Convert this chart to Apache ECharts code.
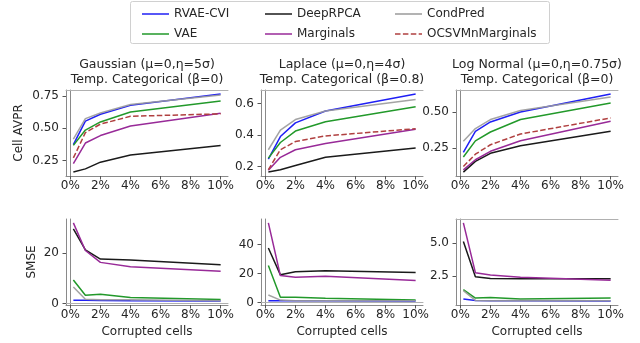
<!DOCTYPE html>
<html><head><meta charset="utf-8">
<script src="https://cdn.jsdelivr.net/npm/echarts@6/dist/echarts.min.js"></script>
<style>html,body{margin:0;padding:0;background:#fff}#c{width:640px;height:343px}</style>
</head><body><div id="c"></div>
<script>
const methods = ['RVAE-CVI','VAE','DeepRPCA','Marginals','CondPred','OCSVMnMarginals'];
const xPct = [0.2, 1, 2, 4, 10];
const xTicks = [0, 2, 4, 6, 8, 10];

// Cell AVPR
const gaussAvprRvae = [0.373, 0.556, 0.610, 0.679, 0.768];
const gaussAvprVae  = [0.368, 0.487, 0.550, 0.627, 0.712];
const gaussAvprDeep = [0.160, 0.185, 0.237, 0.293, 0.367];
const gaussAvprMarg = [0.225, 0.386, 0.444, 0.518, 0.618];
const gaussAvprCond = [0.416, 0.576, 0.620, 0.686, 0.760];
const gaussAvprOcsv = [0.270, 0.467, 0.533, 0.594, 0.613];

const lapAvprRvae = [0.247, 0.390, 0.477, 0.552, 0.661];
const lapAvprVae  = [0.253, 0.352, 0.425, 0.484, 0.579];
const lapAvprDeep = [0.164, 0.179, 0.206, 0.258, 0.317];
const lapAvprMarg = [0.175, 0.258, 0.306, 0.346, 0.436];
const lapAvprCond = [0.306, 0.431, 0.498, 0.552, 0.625];
const lapAvprOcsv = [0.179, 0.306, 0.358, 0.394, 0.440];

const logAvprRvae = [0.220, 0.367, 0.432, 0.502, 0.628];
const logAvprVae  = [0.187, 0.300, 0.362, 0.449, 0.565];
const logAvprDeep = [0.082, 0.157, 0.213, 0.266, 0.367];
const logAvprMarg = [0.098, 0.168, 0.227, 0.301, 0.437];
const logAvprCond = [0.297, 0.386, 0.449, 0.512, 0.607];
const logAvprOcsv = [0.121, 0.207, 0.273, 0.348, 0.460];

// SMSE
const gaussSmseRvae = [1.3, 1.3, 1.2, 1.1, 1.0];
const gaussSmseVae  = [9.3, 3.3, 3.7, 2.4, 1.6];
const gaussSmseDeep = [29.5, 21.2, 17.6, 17.2, 15.4];
const gaussSmseMarg = [31.9, 21.0, 16.3, 14.6, 12.8];
const gaussSmseCond = [6.6, 1.7, 1.5, 1.5, 1.1];

const lapSmseRvae = [1.2, 1.2, 1.2, 1.1, 0.9];
const lapSmseVae  = [25.6, 3.5, 3.5, 2.8, 1.6];
const lapSmseDeep = [37.7, 19.1, 21.2, 21.9, 20.7];
const lapSmseMarg = [55.1, 18.6, 17.4, 18.1, 15.1];
const lapSmseCond = [5.1, 1.6, 1.2, 1.2, 1.2];

const logSmseRvae = [0.77, 0.66, 0.64, 0.64, 0.61];
const logSmseVae  = [1.48, 0.84, 0.89, 0.77, 0.84];
const logSmseDeep = [5.13, 2.45, 2.32, 2.30, 2.30];
const logSmseMarg = [6.53, 2.76, 2.58, 2.42, 2.19];
const logSmseCond = [1.40, 0.66, 0.64, 0.66, 0.64];

const titles1 = ['Gaussian (μ=0,η=5σ)', 'Laplace (μ=0,η=4σ)', 'Log Normal (μ=0,η=0.75σ)'];
const titles2 = ['Temp. Categorical (β=0)', 'Temp. Categorical (β=0.8)', 'Temp. Categorical (β=0)'];
const yTicksList = [[0.25,0.5,0.75],[0.2,0.4,0.6],[0.25,0.5],[0,20],[0,20,40],[2.5,5.0]];
const yDecimals = [2,1,2,0,0,1];

const panels = [
  [gaussAvprRvae, gaussAvprVae, gaussAvprDeep, gaussAvprMarg, gaussAvprCond, gaussAvprOcsv],
  [lapAvprRvae, lapAvprVae, lapAvprDeep, lapAvprMarg, lapAvprCond, lapAvprOcsv],
  [logAvprRvae, logAvprVae, logAvprDeep, logAvprMarg, logAvprCond, logAvprOcsv],
  [gaussSmseRvae, gaussSmseVae, gaussSmseDeep, gaussSmseMarg, gaussSmseCond, null],
  [lapSmseRvae, lapSmseVae, lapSmseDeep, lapSmseMarg, lapSmseCond, null],
  [logSmseRvae, logSmseVae, logSmseDeep, logSmseMarg, logSmseCond, null]
];

const colors = {'RVAE-CVI':'#1f1ff5','VAE':'#22992a','DeepRPCA':'#1a1a1a','Marginals':'#982a98','CondPred':'#9a9a9a','OCSVMnMarginals':'#b04040'};
const FONT = 'DejaVu Sans';
const TXT = '#262626';

const lefts = [66, 261, 456];
const tops = [90, 219];
const W = 162, H = 86;

const grids = [], xAxes = [], yAxes = [], series = [];
for (let g = 0; g < 6; g++) {
  const col = g % 3, row = Math.floor(g / 3);
  grids.push({left: lefts[col], top: tops[row], width: W, height: H, containLabel: false});
  let dmin = Infinity, dmax = -Infinity;
  panels[g].forEach(a => { if (a) a.forEach(v => { dmin = Math.min(dmin, v); dmax = Math.max(dmax, v); }); });
  const pad = (dmax - dmin) * 0.05;
  const xpad = (xPct[xPct.length-1] - xPct[0]) * 0.05;
  xAxes.push({
    type: 'value', gridIndex: g, min: xPct[0] - xpad, max: xPct[xPct.length-1] + xpad,
    splitLine: {show: false},
    axisLine: {show: true, onZero: false, lineStyle: {color: '#8a8a8a', width: 1}},
    axisTick: {show: true, length: 3.5, customValues: xTicks, lineStyle: {color: '#555'}},
    axisLabel: {customValues: xTicks, formatter: v => Math.round(v) + '%', margin: 4, fontFamily: FONT, fontSize: 12, color: TXT},
    name: row === 1 ? 'Corrupted cells' : '', nameLocation: 'middle', nameGap: 21,
    nameTextStyle: {fontFamily: FONT, fontSize: 12, color: TXT}
  });
  xAxes.push({type: 'value', gridIndex: g, position: 'top', min: xPct[0] - xpad, max: xPct[xPct.length-1] + xpad,
    axisLine: {show: true, lineStyle: {color: '#b0b0b0', width: 1}}, axisTick: {show: false}, axisLabel: {show: false}, splitLine: {show: false}});
  const dec = yDecimals[g];
  let yname = '';
  if (g === 0) yname = 'Cell AVPR';
  if (g === 3) yname = 'SMSE';
  yAxes.push({
    type: 'value', gridIndex: g, min: dmin - pad, max: dmax + pad,
    splitLine: {show: false},
    axisLine: {show: true, onZero: false, lineStyle: {color: '#8a8a8a', width: 1}},
    axisTick: {show: true, length: 3.5, customValues: yTicksList[g], lineStyle: {color: '#555'}},
    axisLabel: {customValues: yTicksList[g], formatter: v => v.toFixed(dec), margin: 7, fontFamily: FONT, fontSize: 12, color: TXT},
    name: yname, nameLocation: 'middle', nameGap: g === 0 ? 41 : 28,
    nameTextStyle: {fontFamily: FONT, fontSize: 12, color: TXT}
  });
  yAxes.push({type: 'value', gridIndex: g, position: 'right', min: dmin - pad, max: dmax + pad,
    axisLine: {show: true, lineStyle: {color: '#8a8a8a', width: 1}}, axisTick: {show: false}, axisLabel: {show: false}, splitLine: {show: false}});
  methods.forEach((m, mi) => {
    const arr = panels[g][mi];
    if (!arr) return;
    series.push({
      name: m, type: 'line', xAxisIndex: g * 2, yAxisIndex: g * 2,
      data: xPct.map((x, i) => [x, arr[i]]),
      symbol: 'none', showSymbol: false, silent: true, animation: false,
      lineStyle: {color: colors[m], width: 1.5, type: m === 'OCSVMnMarginals' ? [5.5, 2.4] : 'solid', opacity: m === 'CondPred' ? 0.9 : 1},
      itemStyle: {color: colors[m]}
    });
  });
}

const graphics = [
  {type: 'rect', shape: {x: 130.5, y: 1.5, width: 419, height: 42, r: 2}, style: {fill: '#fff', stroke: '#d0d0d0', lineWidth: 1}, z: -1}
];
for (let c = 0; c < 3; c++) {
  const cx = lefts[c] + W / 2;
  graphics.push({type: 'text', x: cx, y: 65, style: {text: titles1[c], fontFamily: FONT, fontSize: 12.5, fill: TXT, textAlign: 'center', textVerticalAlign: 'middle'}});
  graphics.push({type: 'text', x: cx, y: 80, style: {text: titles2[c], fontFamily: FONT, fontSize: 12.5, fill: TXT, textAlign: 'center', textVerticalAlign: 'middle'}});
}

const solidIcon = 'path://M0,0h27v1.5h-27z';
const dashIcon = 'path://M0,0h5.5v1.5h-5.5z M7.9,0h5.5v1.5h-5.5z M15.8,0h5.5v1.5h-5.5z M23.7,0h3.3v1.5h-3.3z';
function legItem(n) { return {name: n, icon: n === 'OCSVMnMarginals' ? dashIcon : solidIcon}; }
function makeLegend(left, names) {
  return {orient: 'vertical', left: left, top: 2, itemWidth: 27, itemHeight: 1.5, itemGap: 6,
    textStyle: {fontFamily: FONT, fontSize: 12, color: TXT, lineHeight: 14}, selectedMode: false,
    data: names.map(legItem)};
}
const legends = [
  makeLegend(137, ['RVAE-CVI', 'VAE']),
  makeLegend(260, ['DeepRPCA', 'Marginals']),
  makeLegend(390, ['CondPred', 'OCSVMnMarginals'])
];

const chart = echarts.init(document.getElementById('c'), null, {renderer: 'canvas'});
chart.setOption({
  animation: false,
  backgroundColor: '#fff',
  grid: grids, xAxis: xAxes, yAxis: yAxes, series: series,
  legend: legends, graphic: graphics
});
</script></body></html>
